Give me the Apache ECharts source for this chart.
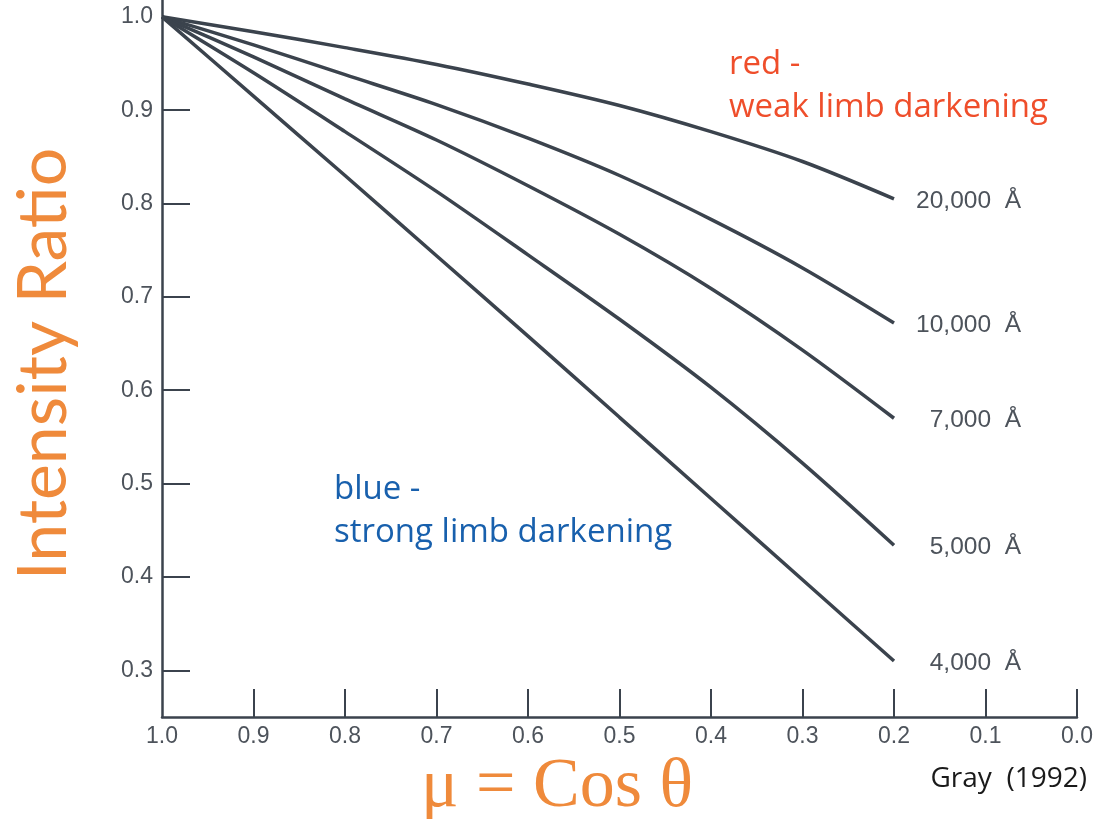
<!DOCTYPE html>
<html>
<head>
<meta charset="utf-8">
<script src="https://cdn.jsdelivr.net/npm/echarts@6/dist/echarts.min.js"></script>
<style>
  html, body { margin: 0; padding: 0; background: #ffffff; }
  #chart { width: 1098px; height: 819px; }
</style>
</head>
<body>
<div id="chart"></div>
<script>
// Limb darkening: I(mu)/I(1) for several wavelengths
const mu = [1.0, 0.9, 0.8, 0.7, 0.6, 0.5, 0.4, 0.3, 0.2];
const wavelengths = ['20,000  Å', '10,000  Å', '7,000  Å', '5,000  Å', '4,000  Å'];
const i20000 = [1.0, 0.984, 0.967, 0.949, 0.928, 0.905, 0.877, 0.845, 0.805];
const i10000 = [1.0, 0.970, 0.938, 0.906, 0.870, 0.830, 0.783, 0.731, 0.672];
const i7000  = [1.0, 0.957, 0.912, 0.868, 0.819, 0.767, 0.709, 0.643, 0.570];
const i5000  = [1.0, 0.940, 0.877, 0.813, 0.745, 0.676, 0.603, 0.522, 0.434];
const i4000  = [1.0, 0.915, 0.830, 0.744, 0.658, 0.571, 0.484, 0.397, 0.310];
const xTickLabels = [1.0, 0.9, 0.8, 0.7, 0.6, 0.5, 0.4, 0.3, 0.2, 0.1, 0.0];
const xTicks = [0.9, 0.8, 0.7, 0.6, 0.5, 0.4, 0.3, 0.2, 0.1, 0.0];
const yTickLabels = [0.3, 0.4, 0.5, 0.6, 0.7, 0.8, 0.9, 1.0];
const yTicks = [0.3, 0.4, 0.5, 0.6, 0.7, 0.8, 0.9];

const curves = [i20000, i10000, i7000, i5000, i4000];
const inkColor = '#3b434d';
const tickFont = { fontFamily: 'Liberation Sans', fontSize: 23, color: '#4d535b' };

const chart = echarts.init(document.getElementById('chart'), null, { renderer: 'canvas' });

chart.setOption({
  backgroundColor: '#ffffff',
  animation: false,
  grid: { left: 162, right: 21, top: 0, bottom: 102 },
  xAxis: {
    type: 'value',
    inverse: true,
    min: 0,
    max: 1,
    axisLine: { show: true, onZero: false, lineStyle: { color: inkColor, width: 2.5 } },
    axisTick: {
      show: true, inside: true, length: 28, customValues: xTicks,
      lineStyle: { color: inkColor, width: 2 }
    },
    axisLabel: {
      customValues: xTickLabels, margin: 8, ...tickFont,
      formatter: v => v.toFixed(1)
    },
    splitLine: { show: false }
  },
  yAxis: {
    type: 'value',
    position: 'left',
    min: 0.25,
    max: 1.018,
    axisLine: { show: true, onZero: false, lineStyle: { color: inkColor, width: 2.5 } },
    axisTick: {
      show: true, inside: true, length: 28, customValues: yTicks,
      lineStyle: { color: inkColor, width: 2 }
    },
    axisLabel: {
      customValues: yTickLabels, margin: 9, ...tickFont,
      formatter: v => v.toFixed(1)
    },
    splitLine: { show: false }
  },
  series: curves.map((vals, k) => ({
    name: wavelengths[k],
    type: 'line',
    smooth: 0.3,
    symbol: 'none',
    data: mu.map((m, i) => [m, vals[i]]),
    lineStyle: { color: inkColor, width: 3.5 },
    endLabel: {
      show: true,
      formatter: p => p.seriesName,
      distance: 128,
      align: 'right',
      offset: [255, 2],
      ...tickFont,
      fontSize: 24.5
    }
  })),
  graphic: [
    {
      type: 'text', x: 44, y: 364, rotation: Math.PI / 2,
      style: {
        text: 'Intensity Ratio', fill: '#ef8a3b',
        font: '68px Lato', align: 'center', verticalAlign: 'middle'
      }
    },
    {
      type: 'text', x: 557, y: 788,
      style: {
        text: 'μ = Cos θ', fill: '#ef8a3b',
        font: '70px "Liberation Serif"', align: 'center', verticalAlign: 'middle'
      }
    },
    {
      type: 'text', x: 729, y: 43,
      style: {
        text: 'red -\nweak limb darkening', fill: '#ef4e2b',
        font: '33px "Open Sans"', lineHeight: 43
      }
    },
    {
      type: 'text', x: 334, y: 468,
      style: {
        text: 'blue -\nstrong limb darkening', fill: '#1860ad',
        font: '33px "Open Sans"', lineHeight: 43
      }
    },
    {
      type: 'text', x: 1087, y: 779,
      style: {
        text: 'Gray  (1992)', fill: '#1a1a1a',
        font: '28px "Open Sans"', align: 'right', verticalAlign: 'middle'
      }
    }
  ]
});
</script>
</body>
</html>
